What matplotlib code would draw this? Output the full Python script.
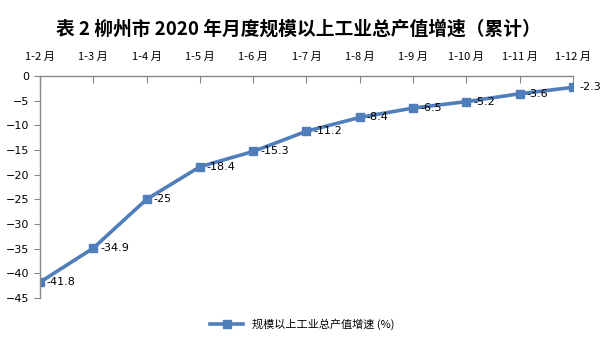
import matplotlib
matplotlib.use("Agg")
import matplotlib.pyplot as plt

plt.rcParams['font.family'] = ['Noto Sans CJK SC', 'DejaVu Sans']

months = ["1-2 月", "1-3 月", "1-4 月", "1-5 月", "1-6 月", "1-7 月",
          "1-8 月", "1-9 月", "1-10 月", "1-11 月", "1-12 月"]
growth = [-41.8, -34.9, -25, -18.4, -15.3, -11.2, -8.4, -6.5, -5.2, -3.6, -2.3]
labels = ["-41.8", "-34.9", "-25", "-18.4", "-15.3", "-11.2", "-8.4", "-6.5", "-5.2", "-3.6", "-2.3"]

color = "#4F7EBB"

fig = plt.figure(figsize=(6.05, 3.4), dpi=100)
ax = fig.add_axes([0.066, 0.1235, 0.881, 0.653])

x = list(range(len(months)))
ax.plot(x, growth, color=color, linewidth=2.6, marker="s", markersize=6,
        label="规模以上工业总产值增速 (%)")

for xi, yi, lab in zip(x, growth, labels):
    ax.annotate(lab, (xi, yi), xytext=(5, 0), textcoords="offset points",
                ha="left", va="center", fontsize=8, family=["DejaVu Sans"])

ax.set_xlim(0, len(months) - 1)
ax.set_ylim(-45, 0)
ax.set_yticks(range(-45, 1, 5))
ax.set_xticks(x)
ax.set_xticklabels(months, fontsize=8)
ax.xaxis.tick_top()
ax.tick_params(axis="x", direction="in", length=5, color="#888888", pad=10)
ax.tick_params(axis="y", direction="out", length=4, color="#888888", labelsize=8)
for lab in ax.get_yticklabels():
    lab.set_family(["DejaVu Sans"])

for side in ["right", "bottom"]:
    ax.spines[side].set_visible(False)
for side in ["top", "left"]:
    ax.spines[side].set_color("#888888")
    ax.spines[side].set_linewidth(1)

fig.suptitle("表 2 柳州市 2020 年月度规模以上工业总产值增速（累计）",
             fontsize=13.5, fontweight="bold", x=0.493, y=0.915, va="center")

fig.legend(loc="lower center", bbox_to_anchor=(0.5, 0.0), frameon=False,
           fontsize=8, handlelength=3)

fig.savefig("out.png", dpi=100)
